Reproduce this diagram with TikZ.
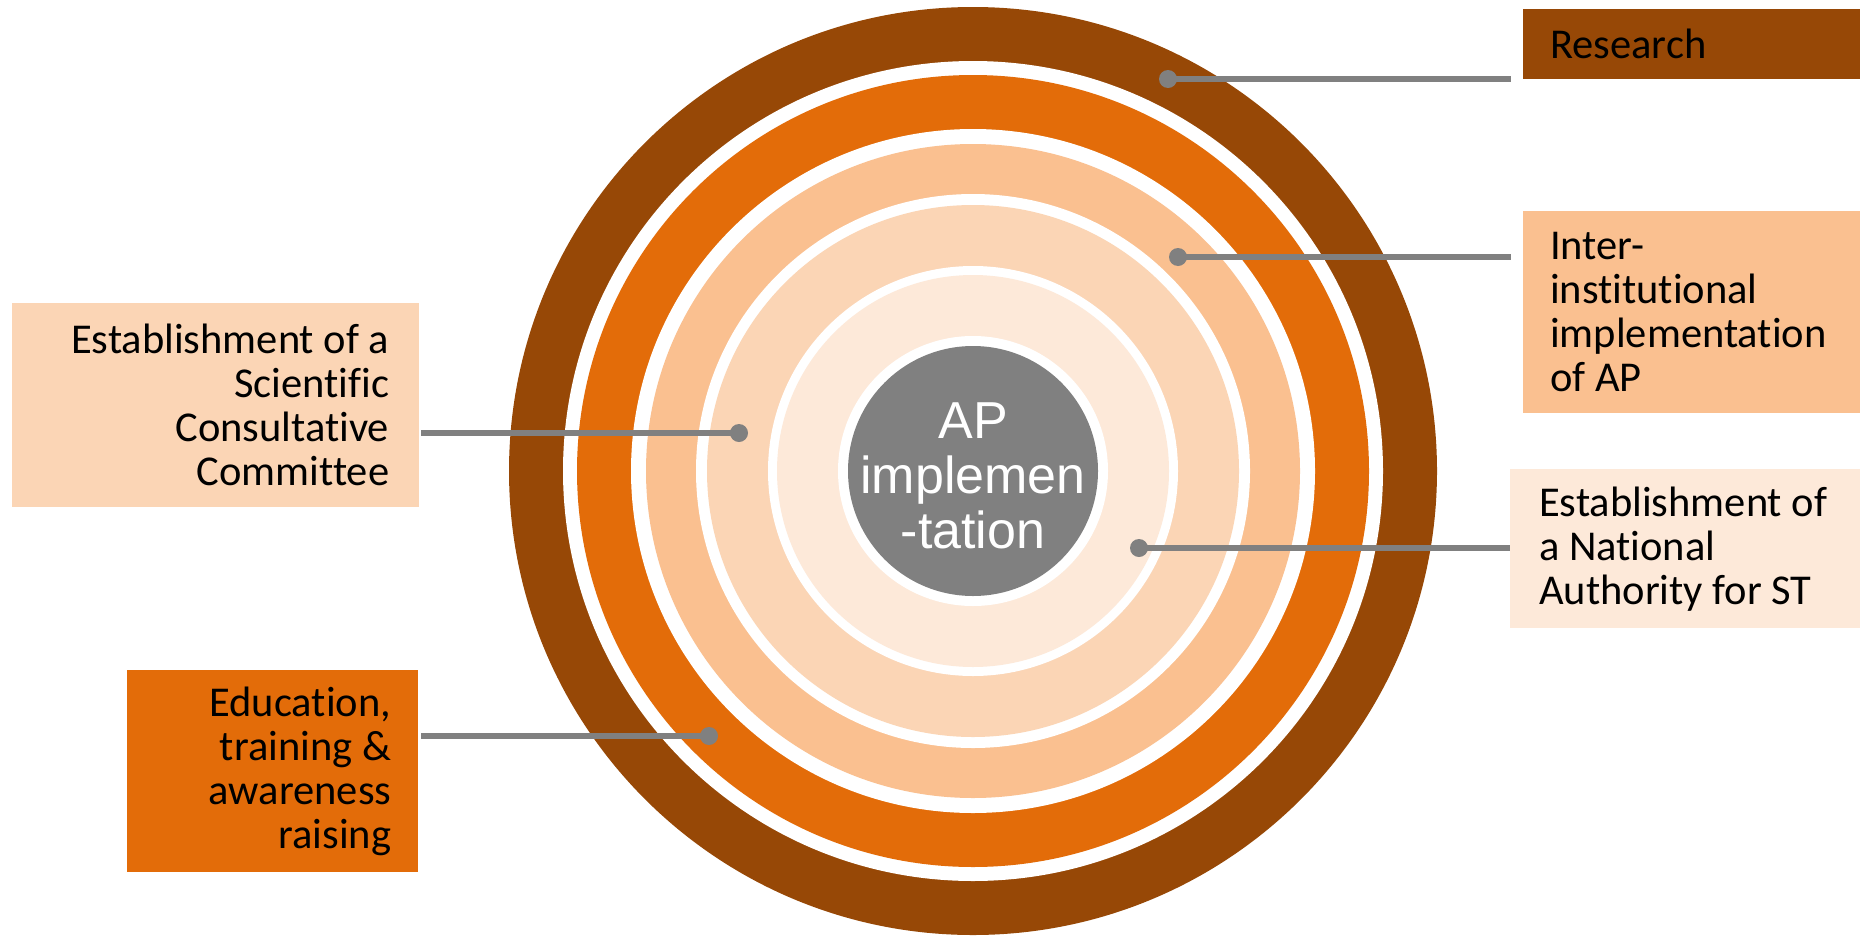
\documentclass[tikz,border=0pt]{standalone}
\usepackage{fontspec}
\setmainfont{Carlito}[Ligatures={NoCommon,NoRare}]
\newfontfamily\corefont{Liberation Sans}
\definecolor{ringbrown}{HTML}{974806}
\definecolor{ringorange}{HTML}{E36C09}
\definecolor{ringlight}{HTML}{FAC090}
\definecolor{ringpeach}{HTML}{FBD5B5}
\definecolor{ringpale}{HTML}{FDE9D9}
\definecolor{coregray}{HTML}{808080}
\definecolor{leadgray}{HTML}{808080}

\begin{document}
\begin{tikzpicture}[x=1pt,y=-1pt,
    box/.style={anchor=north west,inner ysep=0pt,font=\fontsize{42.5}{44}\selectfont},
    dot/.style={circle,fill=leadgray,inner sep=0pt,minimum size=18pt},
    lead/.style={draw=leadgray,line width=6pt}]
  \useasboundingbox (0,0) rectangle (1860,937);
           \coordinate (c) at (973,471);
           \fill[ringbrown] (c) circle [radius=464];
           \fill[white] (c) circle [radius=410];
           \fill[ringorange] (c) circle [radius=396];
           \fill[white] (c) circle [radius=342];
           \fill[ringlight] (c) circle [radius=327];
           \fill[white] (c) circle [radius=277];
           \fill[ringpeach] (c) circle [radius=266];
           \fill[white] (c) circle [radius=205];
           \fill[ringpale] (c) circle [radius=196];
           \fill[white] (c) circle [radius=135];
           \fill[coregray] (c) circle [radius=125];
           \node at (973,476) [text=white,align=center,font=\corefont\fontsize{52}{55}\selectfont] (core) {AP\\implemen\\-tation};
           \node at (1523,9) [box,fill=ringbrown,minimum width=337pt,minimum height=70pt,text width=283pt,inner xsep=27pt,align=flush left] (res) {Research};
           \node at (1523,211) [box,fill=ringlight,minimum width=337pt,minimum height=202pt,text width=283pt,inner xsep=27pt,align=flush left] (inst) {Inter-\\institutional\\implementation\\of AP};
           \node at (1510,469) [box,fill=ringpale,minimum width=350pt,minimum height=159pt,text width=292pt,inner xsep=29pt,align=flush left] (nat) {Establishment of\\a National\\Authority for ST};
           \node at (12,303) [box,fill=ringpeach,minimum width=407pt,minimum height=204pt,text width=347pt,inner xsep=30pt,align=flush right] (sci) {Establishment of a\\Scientific\\Consultative\\Committee};
           \node at (127,670) [box,fill=ringorange,minimum width=291pt,minimum height=202pt,text width=237pt,inner xsep=27pt,align=flush right] (edu) {Education,\\training \&\\awareness\\raising};
           \node at (1168,79) [dot] (dres) {};
           \node at (1178,257) [dot] (dinst) {};
           \node at (1139,548) [dot] (dnat) {};
           \node at (739,433) [dot] (dsci) {};
           \node at (709,736) [dot] (dedu) {};
           \draw[lead] (dres.center) -- ([xshift=-12pt]res.west |- dres);
           \draw[lead] (dinst.center) -- ([xshift=-12pt]inst.west |- dinst);
           \draw[lead] (dnat.center) -- (nat.west |- dnat);
           \draw[lead] ([xshift=2pt]sci.east |- dsci) -- (dsci.center);
           \draw[lead] ([xshift=3pt]edu.east |- dedu) -- (dedu.center);
\end{tikzpicture}
\end{document}
